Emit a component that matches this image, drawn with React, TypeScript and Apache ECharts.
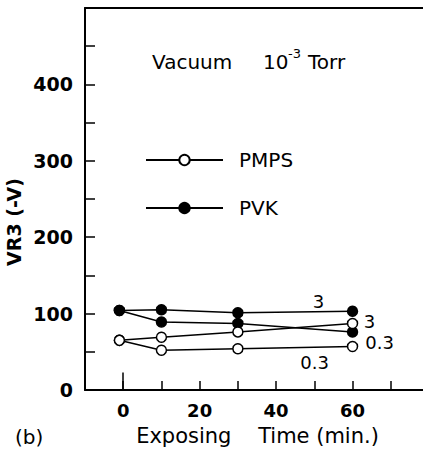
import React, { useEffect, useRef } from "react";
import * as echarts from "echarts";

const timesMin = [-1, 10, 30, 60];
const pmps3 = [65, 69, 76, 87];
const pmps03 = [65, 52, 54, 57];
const pvk3 = [104, 105, 101, 103];
const pvk03 = [104, 89, 87, 76];
const yTickLabels = [0, 100, 200, 300, 400];
const xTickLabels = [0, 20, 40, 60];
const FONT = "DejaVu Sans";

function makeSeries(name: string, ys: number[], filled: boolean, labelText: string, offset: number[]) {
  return {
    type: "line",
    name,
    xAxisIndex: 0,
    data: timesMin.map((t, i) =>
      i === ys.length - 1
        ? {
            value: [t, ys[i]],
            label: {
              show: true,
              formatter: labelText,
              position: "inside",
              offset,
              color: "#000",
              fontSize: 18,
              lineHeight: 15,
              fontFamily: FONT,
              textBorderWidth: 0,
            },
          }
        : [t, ys[i]]
    ),
    symbol: "circle",
    symbolSize: 10,
    showSymbol: true,
    itemStyle: { color: filled ? "#000" : "#fff", borderColor: "#000", borderWidth: 1.5 },
    lineStyle: { color: "#000", width: 1.5 },
    emphasis: { disabled: true },
    silent: true,
    z: filled ? 3 : 4,
  };
}

export default function App() {
  const ref = useRef<HTMLDivElement>(null);
  useEffect(() => {
    if (!ref.current) return;
    const chart = echarts.init(ref.current, undefined, { renderer: "svg" });
    const s1 = makeSeries("PMPS", pmps3, false, "3", [17, -2]);
    const s2 = makeSeries("PMPS", pmps03, false, "0.3", [-38, 16]);
    const s3 = makeSeries("PVK", pvk3, true, "3", [-34, -10]);
    const s4 = makeSeries("PVK", pvk03, true, "0.3", [27, 11]);
    (s3 as any).markLine = {
      silent: true,
      symbol: "none",
      label: { show: false },
      lineStyle: { color: "#000", width: 1.5, type: "solid" },
      data: [[{ coord: [0, 0] }, { coord: [0, 23] }]],
    };
    chart.setOption({
      animation: false,
      backgroundColor: "#fff",
      grid: {
        left: 85,
        top: 8,
        width: 339,
        height: 382,
        show: false,
        containLabel: false,
        outerBoundsMode: "none",
      },
      xAxis: [
        {
          type: "value",
          min: -10,
          max: 78.7,
          interval: 10,
          axisLine: { onZero: false, lineStyle: { color: "#000", width: 2 } },
          axisTick: { inside: true, length: 9, lineStyle: { color: "#000", width: 1.5 } },
          splitLine: { show: false },
          axisLabel: {
            margin: 11,
            color: "#000",
            fontSize: 18,
            fontWeight: "bold",
            fontFamily: FONT,
            formatter: (v: number) => (xTickLabels.includes(v) ? String(v) : ""),
          },
          name: "Exposing    Time (min.)",
          nameLocation: "middle",
          nameGap: 35,
          nameTextStyle: { color: "#000", fontSize: 21, fontFamily: FONT, padding: [0, 0, 0, 6] },
        },
        {
          type: "value",
          position: "top",
          min: -10,
          max: 78.7,
          interval: 10,
          axisLine: { show: true, onZero: false, lineStyle: { color: "#000", width: 2 } },
          axisTick: { show: false },
          axisLabel: { show: false },
          splitLine: { show: false },
        },
      ],
      yAxis: {
        type: "value",
        min: 0,
        max: 500,
        interval: 50,
        axisLine: { onZero: false, lineStyle: { color: "#000", width: 2 } },
        axisTick: { inside: true, length: 10, lineStyle: { color: "#000", width: 1.5 } },
        splitLine: { show: false },
        axisLabel: {
          margin: 12,
          color: "#000",
          fontSize: 19,
          fontWeight: "bold",
          fontFamily: FONT,
          formatter: (v: number) => (yTickLabels.includes(v) ? String(v) : ""),
        },
      },
      legend: {
        orient: "vertical",
        left: 140,
        top: 145,
        padding: 5,
        itemWidth: 77,
        itemHeight: 13,
        itemGap: 28,
        data: ["PMPS", "PVK"],
        selectedMode: false,
        textStyle: { color: "#000", fontSize: 20, fontFamily: FONT, lineHeight: 20, padding: [0, 0, 0, 11] },
      },
      graphic: [
        {
          type: "text",
          x: 14,
          y: 222,
          rotation: Math.PI / 2,
          style: {
            text: "VR3 (-V)",
            x: 0,
            y: 0,
            textAlign: "center",
            textVerticalAlign: "middle",
            align: "center",
            verticalAlign: "middle",
            font: `bold 19px "${FONT}"`,
            fill: "#000",
          },
        },
        { type: "text", left: 152, top: 52, style: { text: "Vacuum", font: `20px "${FONT}"`, fill: "#000" } },
        { type: "text", left: 263, top: 52, style: { text: "10", font: `20px "${FONT}"`, fill: "#000" } },
        { type: "text", left: 288, top: 47, style: { text: "-3", font: `13px "${FONT}"`, fill: "#000" } },
        { type: "text", left: 308, top: 52, style: { text: "Torr", font: `20px "${FONT}"`, fill: "#000" } },
        { type: "text", left: 15, top: 427, style: { text: "(b)", font: `20px "${FONT}"`, fill: "#000" } },
      ],
      series: [s3, s4, s1, s2],
    });
    return () => chart.dispose();
  }, []);
  return (
    <div
      ref={ref}
      style={{ position: "absolute", left: 0, top: 0, width: 423, height: 457, overflow: "hidden" }}
    />
  );
}
